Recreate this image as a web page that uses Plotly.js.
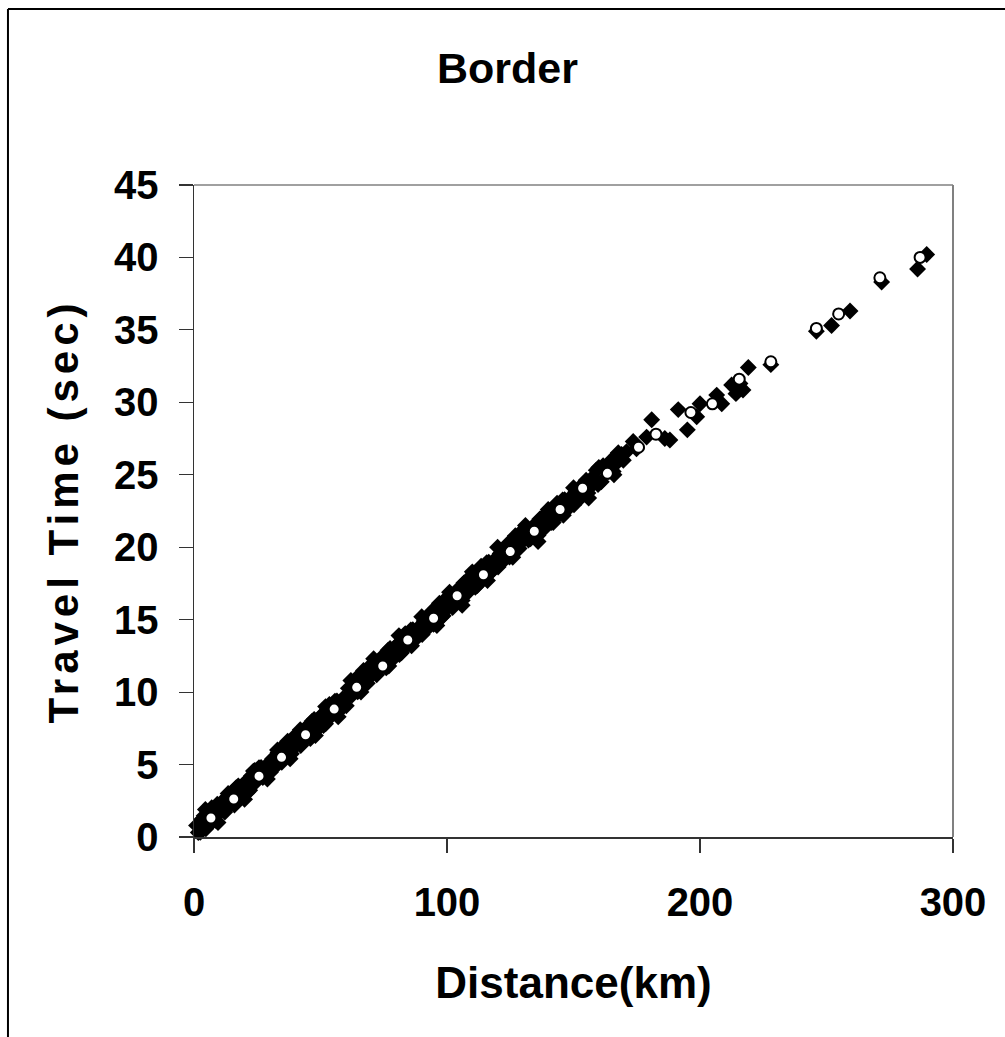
<!DOCTYPE html>
<html>
<head>
<meta charset="utf-8">
<script src="https://cdn.plot.ly/plotly-3.0.1.min.js"></script>
<style>html,body{margin:0;padding:0;background:#fff;}#chart{width:1005px;height:1037px;}</style>
</head>
<body>
<div id="chart"></div>
<script>
// Filled diamonds: distance (km) and travel time (sec)
var diamondDist = [
1,1.7,2.5,3.2,4,4.7,5.5,6.2,7,7.7,8.5,9.2,10,10.7,11.5,12.2,13,13.7,14.5,15.2,
16,16.7,17.5,18.2,19,19.7,20.5,21.2,22,22.7,23.5,24.2,25,25.7,26.5,27.2,28,28.7,29.5,30.2,
31,31.7,32.5,33.2,34,34.7,35.5,36.2,37,37.7,38.5,39.2,40,40.7,41.5,42.2,43,43.7,44.5,45.2,
46,46.7,47.5,48.2,49,49.7,50.5,51.2,52,52.7,53.5,54.2,55,55.7,56.5,57.2,58,58.7,59.5,60.2,
61,61.7,62.5,63.2,64,64.7,65.5,66.2,67,67.7,68.5,69.2,70,70.7,71.5,72.2,73,73.7,74.5,75.2,
76,76.7,77.5,78.2,79,79.7,80.5,81.2,82,82.7,83.5,84.2,85,85.7,86.5,87.2,88,88.7,89.5,90.2,
91,91.7,92.5,93.2,94,94.7,95.5,96.2,97,97.7,98.5,99.2,100,100.7,101.5,102.2,103,103.7,104.5,105.2,
106,106.7,107.5,108.2,109,109.7,110.5,111.2,112,112.7,113.5,114.2,115,115.7,116.5,117.2,118,118.7,119.5,120.2,
121,121.7,122.5,123.2,124,124.7,125.5,126.2,127,127.7,128.5,129.2,130,130.7,131.5,132.2,
133,133.7,134.5,135.2,136,136.7,137.5,138.2,139,139.7,140.5,141.2,142,142.7,143.5,144.2,145,145.7,146.5,147.2,
148,148.7,149.5,150.2,151,151.7,153,153.7,155,155.7,157,157.7,159,159.7,161,161.7,163,163.7,165,165.7,
167,167.7,169,169.7,
4.5,9.5,13.5,20,24,29,33,38,42,48,52,57,62,66,71,77,81,86,90,96,101,106,110,116,120,126,131,136,140,146,150,156,160,166,171,
173.6,174.9,178.9,180.9,186.1,188.1,191.4,195,198.7,200,206.6,208.6,212.5,214.2,217,215.8,219.1,228,
246,252,259.3,271.8,286,289.6
];
var diamondTime = [
0.80,0.31,0.33,1.24,1.46,0.57,0.99,1.60,2.02,1.13,1.15,2.26,1.98,1.79,2.51,1.72,2.04,2.85,2.77,2.38,
2.20,3.41,3.53,2.74,3.16,3.67,3.79,3.10,3.22,4.23,4.55,3.76,3.98,4.79,4.80,4.11,4.23,4.94,4.96,4.47,
5.39,4.90,4.92,5.83,6.05,5.16,5.58,6.19,6.61,5.72,5.74,6.85,6.57,6.38,7.10,6.31,6.63,7.44,7.36,6.97,
6.79,8.00,8.12,7.33,7.75,8.26,8.38,7.69,7.81,8.82,9.14,8.35,8.57,9.38,9.39,8.70,8.82,9.53,9.55,9.06,
10.26,9.77,9.79,10.70,10.92,10.03,10.45,11.06,11.49,10.50,10.62,11.73,11.45,11.26,11.98,11.19,11.52,12.33,12.25,11.86,
11.68,12.89,13.01,12.22,12.65,13.16,13.28,12.59,12.71,13.72,14.04,13.25,13.48,14.29,14.31,13.62,13.74,14.45,14.47,13.98,
14.91,14.42,14.44,15.35,15.57,14.68,15.10,15.71,16.14,15.15,15.27,16.38,16.10,15.91,16.63,15.84,16.17,16.98,16.90,16.51,
16.33,17.54,17.66,16.87,17.30,17.81,17.93,17.24,17.36,18.37,18.69,17.90,18.13,18.94,18.96,18.27,18.39,19.10,19.12,18.63,
19.56,19.07,19.09,20.00,20.22,19.33,19.75,20.36,20.79,19.80,19.92,21.03,20.75,20.56,21.28,20.49,
20.58,21.39,21.40,21.01,20.82,21.95,22.04,21.25,21.67,22.20,22.39,21.70,21.71,22.72,23.03,22.24,22.45,23.26,23.28,22.59,
22.70,23.41,23.42,22.93,23.84,23.35,23.44,24.35,24.63,23.74,24.23,24.84,25.32,24.33,24.52,25.63,25.42,25.23,26.01,25.22,
25.81,26.52,26.40,26.00,
1.9,1.0,3.0,2.6,4.6,4.0,6.0,5.4,7.4,7.0,9.0,8.3,10.8,10.0,12.3,11.8,13.9,13.2,15.2,14.6,16.9,16.0,18.3,17.7,20.0,19.3,21.5,20.4,22.6,22.2,24.1,23.4,25.5,25.0,26.6,
27.3,26.8,27.6,28.8,27.5,27.4,29.5,28.1,29.0,29.9,30.5,29.9,31.2,30.6,30.85,31.3,32.4,32.6,
34.9,35.3,36.3,38.3,39.2,40.2
];
// Open circles: distance (km) and travel time (sec)
var circleDist = [6.7,15.7,25.7,34.6,44.1,55.4,64.3,74.6,84.5,94.7,104,114.4,125,134.5,144.7,153.6,163.4,175.7,182.6,196.4,204.9,215.5,228,246,254.8,271.1,287];
var circleTime = [1.31,2.62,4.2,5.5,7.06,8.83,10.33,11.8,13.6,15.1,16.65,18.1,19.7,21.1,22.6,24.07,25.1,26.9,27.8,29.3,29.9,31.6,32.8,35.1,36.1,38.6,40.0];

var chartTitle = 'Border';
var xTitle = 'Distance(km)';
var yTitle = 'Travel Time (sec)';
var xTicks = [0,100,200,300];
var yTicks = [0,5,10,15,20,25,30,35,40,45];

var FONT = 'Liberation Sans, Arial, sans-serif';
var FS = 40;

var traces = [
  {type:'scatter', mode:'markers', x:diamondDist, y:diamondTime, name:'diamond',
   marker:{symbol:'diamond', size:13, color:'#000000', line:{width:0}}, cliponaxis:false},
  {type:'scatter', mode:'markers', x:circleDist, y:circleTime, name:'circle',
   marker:{symbol:'circle', size:11, color:'#ffffff', line:{width:2, color:'#000000'}}, cliponaxis:false}
];

var layout = {
  width:1005, height:1037,
  margin:{l:194, r:52, t:185, b:200, pad:0},
  paper_bgcolor:'#ffffff', plot_bgcolor:'#ffffff',
  showlegend:false,
  font:{family:FONT, size:FS, color:'#000'},
  title:{text:chartTitle, font:{family:FONT, size:43, weight:'bold', color:'#000'}, x:0.505, xanchor:'center', y:0.934, yanchor:'middle'},
  xaxis:{range:[0,300], tickvals:xTicks, ticks:'outside', ticklen:14, tickwidth:1.2, tickcolor:'#333',
    showline:true, linecolor:'#333', linewidth:1.5, showgrid:false, zeroline:false,
    tickfont:{family:FONT, size:FS, weight:'bold', color:'#000'}, ticklabelstandoff:15,
    title:{text:xTitle, font:{family:FONT, size:44, weight:'bold', color:'#000'}, standoff:44}, automargin:false},
  yaxis:{range:[0,45], tickvals:yTicks, ticks:'outside', ticklen:14, tickwidth:1.2, tickcolor:'#333',
    showline:true, linecolor:'#333', linewidth:1.5, showgrid:false, zeroline:false,
    tickfont:{family:FONT, size:FS, weight:'bold', color:'#000'}, ticklabelstandoff:12,
    title:{text:yTitle, font:{family:FONT, size:42, weight:'bold', color:'#000'}, standoff:22}, automargin:false},
  shapes:[
    {type:'line', xref:'paper', yref:'paper', x0:0, x1:1, y0:1, y1:1, line:{color:'#808080', width:1.5}, layer:'below'},
    {type:'line', xref:'paper', yref:'paper', x0:1, x1:1, y0:0, y1:1, line:{color:'#808080', width:2}, layer:'below'},
    {type:'line', xref:'paper', yref:'paper', x0:-0.2451, x1:1.07, y0:1.2699, y1:1.2699, line:{color:'#000', width:2}},
    {type:'line', xref:'paper', yref:'paper', x0:-0.2451, x1:-0.2451, y0:1.2699, y1:-0.31, line:{color:'#000', width:2}}
  ]
};

Plotly.newPlot('chart', traces, layout, {displayModeBar:false, staticPlot:true}).then(function(gd){
  var yt = gd.querySelector('.ytitle');
  if (yt) { yt.style.letterSpacing = '5px'; }
});
</script>
</body>
</html>
